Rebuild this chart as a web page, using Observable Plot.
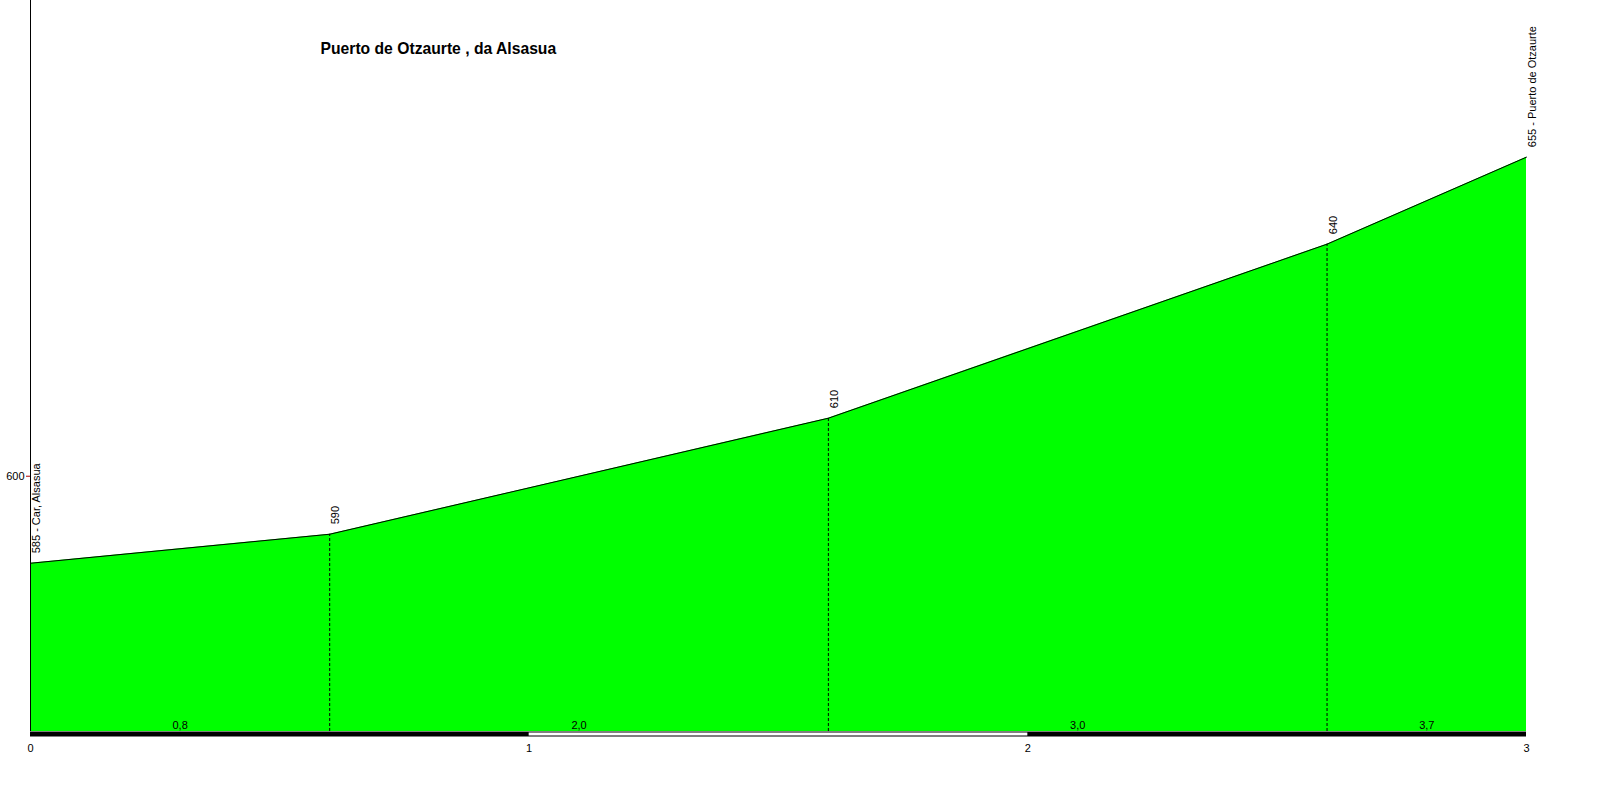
<!DOCTYPE html>
<html>
<head>
<meta charset="utf-8">
<script src="https://cdn.jsdelivr.net/npm/d3@7"></script>
<script src="https://cdn.jsdelivr.net/npm/@observablehq/plot@0.6"></script>
<style>
  html, body { margin: 0; padding: 0; background: #fff; }
  #chart svg { display: block; font-family: "Liberation Sans", Arial, sans-serif; }
</style>
</head>
<body>
<div id="chart"></div>
<script>
// ---- data ----
const title = "Puerto de Otzaurte , da Alsasua";
const km = [0, 0.6, 1.6, 2.6, 3.0];
const elev = [585, 590, 610, 640, 655];
const pointLabels = ["585 - Car, Alsasua", "590", "610", "640", "655 - Puerto de Otzaurte"];
const gradeLabels = ["0,8", "2,0", "3,0", "3,7"];
const xTicks = [0, 1, 2, 3];
const yTicks = [600];
const yDomain = [556, 682];
const xDomain = [0, 3];

// ---- derived tables ----
const points = km.map((k, i) => ({km: k, elev: elev[i], label: pointLabels[i]}));
const inner = points.slice(1, -1);
const segments = gradeLabels.map((g, i) => ({mid: (km[i] + km[i + 1]) / 2, label: g}));
const kmBars = xTicks.slice(0, -1).map((k, i) => ({x1: k, x2: xTicks[i + 1], white: i % 2 === 1}));
const base = yDomain[0];

const chart = Plot.plot({
  width: 1600,
  height: 800,
  marginLeft: 30,
  marginRight: 74,
  marginTop: 0,
  marginBottom: 69,
  style: {fontFamily: "'Liberation Sans', Arial, sans-serif", fontSize: "11px", background: "#fff", overflow: "visible"},
  x: {domain: xDomain, axis: null},
  y: {domain: yDomain, axis: null},
  marks: [
    Plot.areaY(points, {x: "km", y1: base, y2: "elev", fill: "#00ff00"}),
    Plot.line(points, {x: "km", y: "elev", stroke: "#000", strokeWidth: 1}),
    Plot.ruleX(inner, {x: "km", y1: base, y2: "elev", stroke: "#000", strokeWidth: 1, strokeDasharray: "3,2"}),
    Plot.ruleX([xDomain[0]], {stroke: "#000", strokeWidth: 1}),
    // km bar along the bottom
    Plot.ruleY([base], {x1: xDomain[0], x2: xDomain[1], stroke: "#000", strokeWidth: 5, dy: 2.5}),
    Plot.ruleY(kmBars.filter(d => d.white), {y: () => base, x1: "x1", x2: "x2", stroke: "#fff", strokeWidth: 3, dy: 2.5}),
    // gradient labels
    Plot.text(segments, {x: "mid", y: () => base, text: "label", lineAnchor: "bottom", dy: -3, fill: "#000", fontSize: 11}),
    // elevation labels
    Plot.text(points, {x: "km", y: "elev", text: "label", rotate: -90, textAnchor: "start", lineAnchor: "middle", dx: 6, dy: -10, fill: "#000", fontSize: 11}),
    // axes
    Plot.axisX({ticks: xTicks, tickSize: 0, tickPadding: 13, tickFormat: d => String(d), fill: "#000", fontSize: 11, label: null}),
    Plot.axisY({ticks: yTicks, tickSize: 4, tickPadding: 2, stroke: "#b00000", fontSize: 11, label: null}),
    // title
    Plot.text([title], {frameAnchor: "top-left", text: d => d, textAnchor: "start", lineAnchor: "middle", dx: 290, dy: 48, fontWeight: "bold", fontSize: 15.7, fill: "#000"})
  ]
});
document.getElementById("chart").appendChild(chart);
</script>
</body>
</html>
